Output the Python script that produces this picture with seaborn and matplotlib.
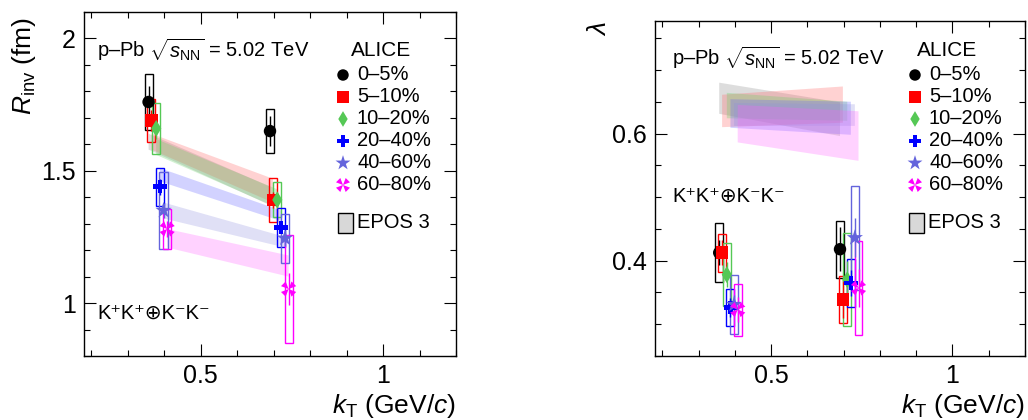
import numpy as np
import pandas as pd
import matplotlib
matplotlib.use("Agg")
import matplotlib.pyplot as plt
import seaborn as sns
from matplotlib.patches import Rectangle
from matplotlib.ticker import MultipleLocator

# ---------------- data ----------------
classes = ["0–5%", "5–10%", "10–20%", "20–40%", "40–60%", "60–80%"]
kt_low = [0.357, 0.365, 0.378, 0.388, 0.398, 0.408]
kt_high = [0.690, 0.698, 0.710, 0.720, 0.731, 0.741]

# Rinv (fm)
r_low = [1.76, 1.69, 1.66, 1.44, 1.35, 1.28]
r_low_stat = [0.06, 0.04, 0.04, 0.03, 0.03, 0.03]
r_low_sys = [0.107, 0.083, 0.095, 0.072, 0.145, 0.077]
r_high = [1.65, 1.39, 1.39, 1.285, 1.245, 1.053]
r_high_stat = [0.057, 0.03, 0.03, 0.02, 0.03, 0.06]
r_high_sys = [0.082, 0.082, 0.066, 0.074, 0.092, 0.205]

# lambda
lam_low = [0.4125, 0.4125, 0.378, 0.326, 0.331, 0.323]
lam_low_stat = [0.02, 0.02, 0.02, 0.015, 0.015, 0.02]
lam_low_sys = [0.046, 0.030, 0.050, 0.029, 0.047, 0.041]
lam_high = [0.418, 0.339, 0.370, 0.365, 0.436, 0.357]
lam_high_stat = [0.035, 0.03, 0.03, 0.02, 0.031, 0.03]
lam_high_sys = [0.045, 0.037, 0.073, 0.038, 0.082, 0.074]

# EPOS 3 bands: lower / upper edge at low and high kT
epos_r_low_lo = [1.58, 1.58, 1.56, 1.46, 1.32, 1.21]
epos_r_low_hi = [1.64, 1.64, 1.62, 1.51, 1.38, 1.28]
epos_r_high_lo = [1.37, 1.38, 1.36, 1.31, 1.21, 1.10]
epos_r_high_hi = [1.44, 1.47, 1.43, 1.35, 1.25, 1.18]

epos_l_low_lo = [0.631, 0.610, 0.624, 0.609, 0.612, 0.586]
epos_l_low_hi = [0.680, 0.661, 0.664, 0.654, 0.648, 0.645]
epos_l_high_lo = [0.596, 0.617, 0.620, 0.598, 0.612, 0.557]
epos_l_high_hi = [0.649, 0.674, 0.650, 0.650, 0.646, 0.635]

# ---------------- style ----------------
colors = ["#000000", "#ff0000", "#55c855", "#0000ff", "#6464dc", "#ff00ff"]
band_colors = ["#888888", "#ff6060", "#60d060", "#6060ff", "#9090e0", "#ff60ff"]

# Maltese-cross style marker (four outward wedges on the diagonals)
def wedge_cross():
    verts = []
    for ang in (45, 135, 225, 315):
        a = np.deg2rad(ang)
        d = np.deg2rad(24)
        verts.append((0.0, 0.0))
        verts.append((np.cos(a - d), np.sin(a - d)))
        verts.append((np.cos(a + d), np.sin(a + d)))
    verts.append((0.0, 0.0))
    return verts

markers = ["o", "s", "d", "P", "*", wedge_cross()]
msizes = [80, 80, 75, 95, 150, 120]

sns.set_theme(style="ticks")
plt.rcParams["font.family"] = ["Liberation Sans", "DejaVu Sans"]
plt.rcParams["mathtext.fontset"] = "custom"
plt.rcParams["mathtext.rm"] = "Liberation Sans"
plt.rcParams["mathtext.it"] = "Liberation Sans:italic"
plt.rcParams["mathtext.bf"] = "Liberation Sans:bold"
for key in ("text.color", "axes.labelcolor", "xtick.color", "ytick.color", "axes.edgecolor"):
    plt.rcParams[key] = "black"

fig = plt.figure(figsize=(10.28, 4.20), dpi=100)
axL = fig.add_axes([84 / 1028, 64 / 420, 372 / 1028, 344 / 420])
axR = fig.add_axes([655 / 1028, 64 / 420, 370 / 1028, 335 / 420])

box_w = 0.022


def draw_panel(ax, lo_v, lo_st, lo_sy, hi_v, hi_st, hi_sy, b_llo, b_lhi, b_hlo, b_hhi):
    # model bands
    for i in range(len(classes)):
        xs = [kt_low[i], kt_high[i], kt_high[i], kt_low[i]]
        ys = [b_llo[i], b_hlo[i], b_hhi[i], b_lhi[i]]
        ax.fill(xs, ys, color=band_colors[i], alpha=0.28, lw=0, zorder=1)
    # systematic boxes and statistical bars
    for i in range(len(classes)):
        for k, v, st, sy in ((kt_low[i], lo_v[i], lo_st[i], lo_sy[i]),
                             (kt_high[i], hi_v[i], hi_st[i], hi_sy[i])):
            ax.add_patch(Rectangle((k - box_w / 2, v - sy), box_w, 2 * sy,
                                   fill=False, ec=colors[i], lw=1.0, zorder=3))
            ax.errorbar([k], [v], yerr=[st], fmt="none", ecolor=colors[i],
                        elinewidth=1.0, capsize=0, zorder=4)
    df = pd.DataFrame({
        "kT": kt_low + kt_high,
        "val": list(lo_v) + list(hi_v),
        "cls": classes + classes,
    })
    for i, c in enumerate(classes):
        sns.scatterplot(data=df[df["cls"] == c], x="kT", y="val", ax=ax,
                        marker=markers[i], s=msizes[i], color=colors[i],
                        edgecolor="none", linewidth=0, legend=False, zorder=5)


draw_panel(axL, r_low, r_low_stat, r_low_sys, r_high, r_high_stat, r_high_sys,
           epos_r_low_lo, epos_r_low_hi, epos_r_high_lo, epos_r_high_hi)
draw_panel(axR, lam_low, lam_low_stat, lam_low_sys, lam_high, lam_high_stat, lam_high_sys,
           epos_l_low_lo, epos_l_low_hi, epos_l_high_lo, epos_l_high_hi)

axL.set_xlim(0.18, 1.2)
axL.set_ylim(0.8, 2.1)
axR.set_xlim(0.18, 1.2)
axR.set_ylim(0.25, 0.777)

for ax in (axL, axR):
    ax.set_xticks([0.5, 1.0])
    ax.set_xticklabels(["0.5", "1"])
    ax.xaxis.set_minor_locator(MultipleLocator(0.1))
    ax.tick_params(which="both", direction="in", top=True, right=True,
                   labelsize=18, width=0.8, color="black", labelcolor="black")
    ax.tick_params(which="major", length=8.5, pad=6)
    ax.tick_params(which="minor", length=4.5)
    for s in ax.spines.values():
        s.set_linewidth(1.0)
        s.set_color("black")

axL.set_yticks([1.0, 1.5, 2.0])
axL.set_yticklabels(["1", "1.5", "2"])
axL.yaxis.set_minor_locator(MultipleLocator(0.1))
axR.set_yticks([0.4, 0.6])
axR.set_yticklabels(["0.4", "0.6"])
axR.yaxis.set_minor_locator(MultipleLocator(0.05))

axL.set_xlabel(r"$k_{\rm T}$ (GeV/$c$)", fontsize=19, loc="right")
axR.set_xlabel(r"$k_{\rm T}$ (GeV/$c$)", fontsize=19, loc="right")
axL.xaxis.set_label_coords(1.0, -0.105)
axR.xaxis.set_label_coords(1.0, -0.107)
axL.set_ylabel(r"$R_{\rm inv}$ (fm)", fontsize=19, loc="top")
axL.yaxis.set_label_coords(-0.123, 0.985)
axR.set_ylabel(r"$\lambda$", fontsize=19, loc="top")
axR.yaxis.set_label_coords(-0.12, 1.0)

system = r"p–Pb $\sqrt{s_{\rm NN}}$ = 5.02 TeV"
pair = "K⁺K⁺⊕K⁻K⁻"


def draw_legend(ax, ax_h, ax_top, x_mark, x_text, y_alice, x_alice, y_rows, dy, y_epos, x_box):
    to_y = lambda py: (ax_top + ax_h - py) / ax_h
    ax.text(x_alice, to_y(y_alice), "ALICE", transform=ax.transAxes, fontsize=15,
            ha="center", va="center")
    for i, c in enumerate(classes):
        yy = to_y(y_rows + i * dy)
        ax.scatter([x_mark], [yy], transform=ax.transAxes, marker=markers[i],
                   s=msizes[i] * 0.85, color=colors[i], edgecolor="none",
                   clip_on=False, zorder=6)
        ax.text(x_text, yy, c, transform=ax.transAxes, fontsize=14.5,
                ha="left", va="center")
    yy = to_y(y_epos)
    ax.add_patch(Rectangle((x_box, yy - 10 / ax_h), 15 / 372, 20 / ax_h,
                           transform=ax.transAxes, fc="#d8d8d8", ec="black",
                           lw=1.0, clip_on=False))
    ax.text(x_box + 19 / 372, yy, "EPOS 3", transform=ax.transAxes, fontsize=14.5,
            ha="left", va="center")


draw_legend(axL, 344, 12, (343 - 84) / 372, (357 - 84) / 372, 50, (381 - 84) / 372,
            75, 22.0, 223, (338 - 84) / 372)
draw_legend(axR, 335, 21, (915 - 655) / 370, (929 - 655) / 370, 50, (947 - 655) / 370,
            75, 22.0, 223, (909 - 655) / 370)

axL.text((97 - 84) / 372, (356 - 50) / 344, system, transform=axL.transAxes,
         fontsize=14.5, ha="left", va="center")
axR.text((672 - 655) / 370, (356 - 58) / 335, system, transform=axR.transAxes,
         fontsize=14.5, ha="left", va="center")
axL.text((97 - 84) / 372, (356 - 313) / 344, pair, transform=axL.transAxes,
         fontsize=14.5, ha="left", va="center", family=["Liberation Sans", "DejaVu Sans"])
axR.text((672 - 655) / 370, (356 - 196) / 335, pair, transform=axR.transAxes,
         fontsize=14.5, ha="left", va="center", family=["Liberation Sans", "DejaVu Sans"])

fig.savefig("out.png", dpi=100)
